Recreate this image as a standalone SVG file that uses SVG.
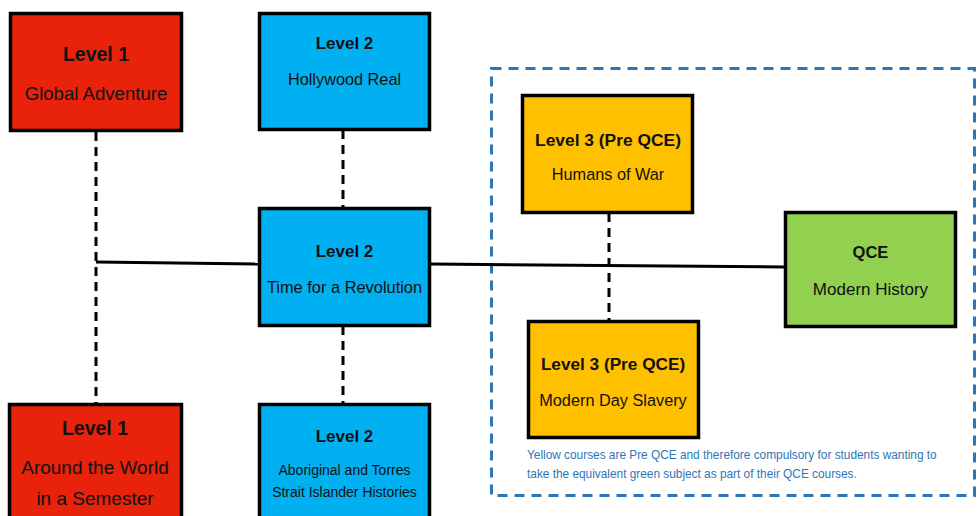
<svg xmlns="http://www.w3.org/2000/svg" width="977" height="516" viewBox="0 0 977 516">
<style>
.box{stroke:#000;stroke-width:3.5}
.red{fill:#E8220B}.blue{fill:#00B0F0}.yel{fill:#FFC000}.grn{fill:#92D050}
text{font-family:"Liberation Sans",Arial,sans-serif;fill:#111;text-anchor:middle}
.b{font-weight:bold}
.solid{stroke:#000;stroke-width:3;fill:none}
.dash{stroke:#000;stroke-width:3;fill:none;stroke-dasharray:9 6}
.note{font-size:11.85px;fill:#2E75B6;text-anchor:start}
</style>
<rect width="977" height="516" fill="#fff"/>
<g id="region">
<rect x="491.5" y="68.5" width="483" height="427" fill="none" stroke="#2E75B6" stroke-width="3" stroke-dasharray="10 7"/>
</g>
<g id="connectors">
<line class="dash" x1="96" y1="132" x2="96" y2="404"/>
<polyline class="solid" points="96,262 259,264"/>
<polyline class="solid" points="431,264 785,267"/>
<line class="dash" x1="343" y1="130" x2="343" y2="209"/>
<line class="dash" x1="343" y1="326" x2="343" y2="404"/>
<line class="dash" x1="609" y1="213" x2="609" y2="321"/>
</g>
<g id="global-adventure">
<rect class="box red" x="10.5" y="13.5" width="171" height="117"/>
<text class="b" x="96" y="61" font-size="19.5">Level 1</text>
<text x="96" y="100" font-size="18.6">Global Adventure</text>
</g>
<g id="hollywood-real">
<rect class="box blue" x="259.5" y="13.5" width="170" height="116"/>
<text class="b" x="344.5" y="49" font-size="17">Level 2</text>
<text x="344.5" y="85" font-size="16.3">Hollywood Real</text>
</g>
<g id="time-for-a-revolution">
<rect class="box blue" x="259.5" y="208.5" width="170" height="117"/>
<text class="b" x="344.5" y="257" font-size="17">Level 2</text>
<text x="344.5" y="293" font-size="16.4">Time for a Revolution</text>
</g>
<g id="around-the-world">
<rect class="box red" x="9.5" y="404.5" width="172" height="130"/>
<text class="b" x="95" y="435" font-size="19.5">Level 1</text>
<text x="95" y="474" font-size="19">Around the World</text>
<text x="95" y="505" font-size="19">in a Semester</text>
</g>
<g id="aboriginal-histories">
<rect class="box blue" x="259.5" y="404.5" width="170" height="130"/>
<text class="b" x="344.5" y="442" font-size="17">Level 2</text>
<text x="344.5" y="475" font-size="14">Aboriginal and Torres</text>
<text x="344.5" y="497" font-size="14">Strait Islander Histories</text>
</g>
<g id="humans-of-war">
<rect class="box yel" x="522.5" y="95.5" width="170" height="117"/>
<text class="b" x="608" y="146" font-size="17.4">Level 3 (Pre QCE)</text>
<text x="608" y="180" font-size="16.3">Humans of War</text>
</g>
<g id="modern-day-slavery">
<rect class="box yel" x="528.5" y="321.5" width="170" height="116"/>
<text class="b" x="613" y="370" font-size="17.2">Level 3 (Pre QCE)</text>
<text x="613" y="406" font-size="16.3">Modern Day Slavery</text>
</g>
<g id="modern-history">
<rect class="box grn" x="785.5" y="212.5" width="170" height="114"/>
<text class="b" x="870.5" y="258" font-size="16.5">QCE</text>
<text x="870.5" y="295" font-size="17">Modern History</text>
</g>
<g id="note">
<text class="note" x="527" y="459">Yellow courses are Pre QCE and therefore compulsory for students wanting to</text>
<text class="note" x="527" y="478">take the equivalent green subject as part of their QCE courses.</text>
</g>
</svg>
